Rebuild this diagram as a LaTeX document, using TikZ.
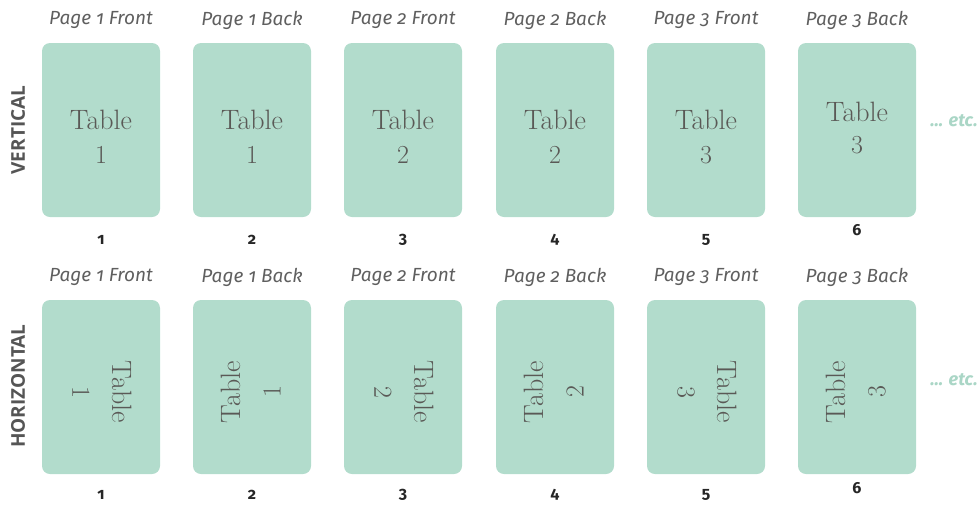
\documentclass[tikz,border=0pt]{standalone}
\usepackage{fontspec}
\newfontfamily\hdrfont[Numbers=OldStyle]{Fira Sans}
\newfontfamily\sidefont{Open Sans}
\definecolor{mint}{RGB}{178,220,204}
\definecolor{etcmint}{RGB}{170,214,198}
\definecolor{txtgray}{RGB}{90,89,86}
\definecolor{hdrgray}{RGB}{95,95,95}
\definecolor{sidegray}{RGB}{85,85,85}
\tikzset{
  card/.style={fill=mint, draw=none, rounded corners=8pt, minimum width=118pt, minimum height=174pt, inner sep=0pt},
  hdr/.style={font=\hdrfont\itshape\fontsize{19}{21}\selectfont, text=hdrgray, inner sep=0pt},
  num/.style={font=\hdrfont\bfseries\fontsize{16}{18}\selectfont, text=black!85, inner sep=0pt},
  tword/.style={font=\fontsize{28}{30}\selectfont, text=txtgray, inner sep=0pt},
  tnum/.style={font=\fontsize{26}{30}\selectfont, text=txtgray, inner sep=0pt},
  side/.style={font=\sidefont\bfseries\fontsize{19}{21}\selectfont, text=sidegray, rotate=90, inner sep=0pt},
  etc/.style={font=\hdrfont\bfseries\itshape\fontsize{18}{20}\selectfont, text=etcmint, inner sep=0pt}
}
\begin{document}
\begin{tikzpicture}[x=1pt,y=-1pt]
\useasboundingbox (0,0) rectangle (980,504);
% side labels
\node[side] (lv) at (18,130) {VERTICAL};
\node[side] (lh) at (18,386) {HORIZONTAL};
% columns
\foreach \i/\cx/\pg/\side/\tn in {1/101/1/Front/1, 2/252/1/Back/1, 3/403/2/Front/2, 4/555/2/Back/2, 5/706/3/Front/3, 6/857/3/Back/3} {
  % vertical row
  \node[hdr] (hv\i) at (\cx,20) {Page \pg\ \side};
  \node[card] (cv\i) at (\cx,130) {};
  \ifnum\i=6
    \node[tword] (tv\i) at (\cx,112) {Table};
    \node[tnum] (nv\i) at (\cx,145) {\tn};
    \node[num] (bv\i) at (\cx,230) {\i};
  \else
    \node[tword] (tv\i) at (\cx,120) {Table};
    \node[tnum] (nv\i) at (\cx,155) {\tn};
    \node[num] (bv\i) at (\cx,240) {\i};
  \fi
  % horizontal row
  \node[hdr] (hh\i) at (\cx,277) {Page \pg\ \side};
  \node[card] (ch\i) at (\cx,387) {};
  \ifodd\i
    \begin{scope}[shift={(\cx,392)}, rotate=-90, transform shape]
      \node[tword] (th\i) at (0,-21) {Table};
      \node[tnum] (nh\i) at (0,20) {\tn};
    \end{scope}
    \node[num] (bh\i) at (\cx,495) {\i};
  \else
    \begin{scope}[shift={(\cx,392)}, rotate=90, transform shape]
      \node[tword] (th\i) at (0,-21) {Table};
      \node[tnum] (nh\i) at (0,20) {\tn};
    \end{scope}
    \ifnum\i=6
      \node[num] (bh\i) at (\cx,488) {\i};
    \else
      \node[num] (bh\i) at (\cx,495) {\i};
    \fi
  \fi
}
\node[etc] (ev) at (954,121) {... etc.};
\node[etc] (eh) at (954,380) {... etc.};
\end{tikzpicture}
\end{document}
